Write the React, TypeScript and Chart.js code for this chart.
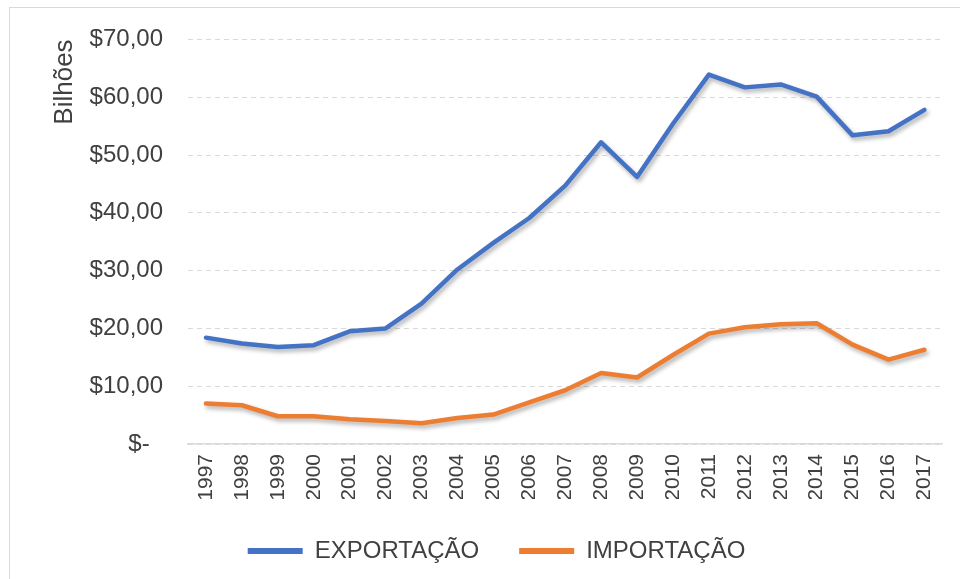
import React, { useEffect, useRef } from 'react';
import { Chart, registerables } from 'chart.js';

Chart.register(...registerables);

const years = ['1997', '1998', '1999', '2000', '2001', '2002', '2003', '2004', '2005', '2006', '2007', '2008', '2009', '2010', '2011', '2012', '2013', '2014', '2015', '2016', '2017'];
const exportacao = [18.4, 17.4, 16.8, 17.1, 19.5, 20.0, 24.3, 30.2, 34.8, 39.1, 44.7, 52.2, 46.2, 55.4, 63.9, 61.7, 62.2, 60.1, 53.4, 54.1, 57.8];
const importacao = [7.0, 6.7, 4.8, 4.8, 4.3, 4.0, 3.6, 4.5, 5.1, 7.2, 9.3, 12.3, 11.5, 15.4, 19.1, 20.2, 20.7, 20.9, 17.2, 14.6, 16.3];
const seriesNames = ['EXPORTAÇÃO', 'IMPORTAÇÃO'];
const yMax = 70;
const yStep = 10;

const BLUE = '#4472C4';
const ORANGE = '#ED7D31';
const TEXT = '#404040';

const shadowPlugin = {
  id: 'lineShadow',
  beforeDatasetDraw(chart: any) {
    const c = chart.ctx;
    c.save();
    c.shadowColor = 'rgba(0,0,0,0.3)';
    c.shadowBlur = 4;
    c.shadowOffsetX = 2;
    c.shadowOffsetY = 3;
  },
  afterDatasetDraw(chart: any) {
    chart.ctx.restore();
  },
};

function fmt(v: number): string {
  if (v === 0) return '$-  ';
  return '$' + v.toFixed(2).replace('.', ',');
}

export default function App() {
  const ref = useRef<HTMLCanvasElement | null>(null);

  useEffect(() => {
    if (!ref.current) return;
    const chart = new Chart(ref.current, {
      type: 'line',
      data: {
        labels: years,
        datasets: [
          {
            label: seriesNames[0],
            data: exportacao,
            borderColor: BLUE,
            backgroundColor: BLUE,
            borderWidth: 4.5,
            pointRadius: 0,
            tension: 0,
            borderCapStyle: 'round',
            borderJoinStyle: 'round',
          },
          {
            label: seriesNames[1],
            data: importacao,
            borderColor: ORANGE,
            backgroundColor: ORANGE,
            borderWidth: 4.5,
            pointRadius: 0,
            tension: 0,
            borderCapStyle: 'round',
            borderJoinStyle: 'round',
          },
        ],
      },
      options: {
        responsive: false,
        animation: false,
        layout: { padding: { left: 49, top: 37, right: 16, bottom: 6 } },
        plugins: {
          tooltip: { enabled: false },
          legend: {
            position: 'bottom',
            labels: {
              color: TEXT,
              font: { family: 'Liberation Sans, Arial, sans-serif', size: 24 },
              boxWidth: 55,
              boxHeight: 6,
              padding: 40,
              generateLabels: (ch: any) =>
                ch.data.datasets.map((d: any, i: number) => ({
                  text: d.label,
                  fillStyle: d.borderColor,
                  strokeStyle: d.borderColor,
                  lineWidth: 0,
                  fontColor: TEXT,
                  datasetIndex: i,
                  hidden: false,
                })),
            },
          },
        },
        scales: {
          x: {
            offset: true,
            grid: { display: false, drawTicks: false },
            border: { display: true, color: '#d9d9d9', width: 1.5 },
            ticks: {
              color: TEXT,
              font: { family: 'Liberation Sans, Arial, sans-serif', size: 21 },
              minRotation: 90,
              maxRotation: 90,
              padding: 10,
              autoSkip: false,
            },
            afterFit: (s: any) => {
              s.height = 55;
            },
          },
          y: {
            min: 0,
            max: yMax,
            ticks: {
              stepSize: yStep,
              color: TEXT,
              font: { family: 'Liberation Sans, Arial, sans-serif', size: 24 },
              padding: 25,
              callback: (v: any) => fmt(Number(v)),
            },
            grid: { color: '#d9d9d9', drawTicks: false, lineWidth: 1 },
            border: { display: false, dash: [5, 4] },
            title: {
              display: true,
              text: 'Bilhões',
              align: 'end',
              color: TEXT,
              font: { family: 'Liberation Sans, Arial, sans-serif', size: 26 },
              padding: { top: 0, bottom: 0 },
            },
            afterFit: (s: any) => {
              s.width = 188 - 49;
            },
          },
        },
      },
      plugins: [shadowPlugin],
    } as any);
    return () => chart.destroy();
  }, []);

  return (
    <div style={{ position: 'absolute', left: 0, top: 0, width: 960, height: 579, overflow: 'hidden', background: '#fff' }}>
      <div style={{ position: 'absolute', left: 9, top: 7, width: 980, height: 600, borderLeft: '1.5px solid #d9d9d9', borderTop: '1.5px solid #d9d9d9' }} />
      <canvas ref={ref} width={960} height={579} style={{ position: 'absolute', left: 0, top: 0, width: 960, height: 579 }} />
    </div>
  );
}
